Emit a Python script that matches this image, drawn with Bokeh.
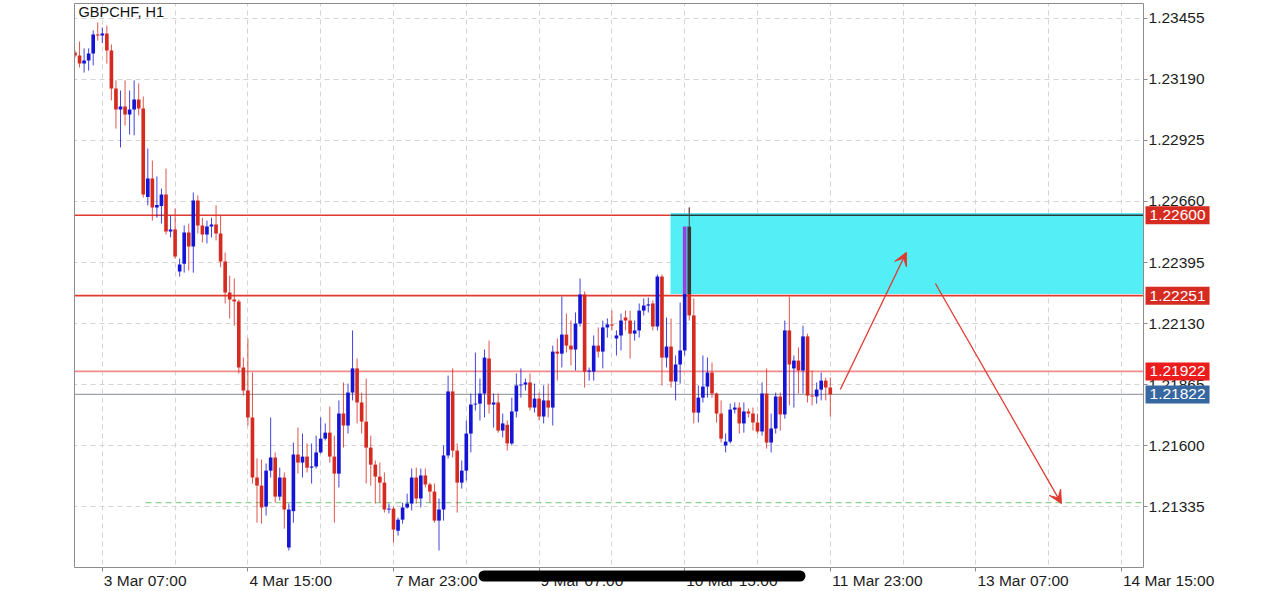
from bokeh.plotting import figure
from bokeh.models import (FixedTicker, PrintfTickFormatter, Range1d, Label, Arrow, VeeHead, BoxAnnotation)
from bokeh.embed import file_html
from bokeh.resources import INLINE

# ---------------- data ----------------
chart_title = "GBPCHF, H1"
bar_index = list(range(-6, 161))          # hourly bars, 0 = 3 Mar 07:00

opens = [
    1.23307, 1.23294, 1.23259, 1.23272, 1.23303, 1.23385,
    1.23381, 1.23390, 1.23316, 1.23151, 1.23060, 1.23073, 1.23038, 1.23060, 1.23103, 1.23064,
    1.22680, 1.22760, 1.22634, 1.22640, 1.22690, 1.22530, 1.22538, 1.22356, 1.22390, 1.22525,
    1.22464, 1.22664, 1.22556, 1.22517, 1.22551, 1.22560, 1.22521, 1.22399, 1.22265, 1.22234,
    1.22226, 1.21939, 1.21839, 1.21722, 1.21461, 1.21426, 1.21335, 1.21491, 1.21548, 1.21378,
    1.21461, 1.21157, 1.21315, 1.21561, 1.21526, 1.21552, 1.21504, 1.21509, 1.21570, 1.21630,
    1.21656, 1.21552, 1.21478, 1.21739, 1.21687, 1.21830, 1.21935, 1.21787, 1.21704, 1.21591,
    1.21517, 1.21465, 1.21439, 1.21322, 1.21326, 1.21230, 1.21278, 1.21331, 1.21348, 1.21461,
    1.21370, 1.21470, 1.21431, 1.21400, 1.21274, 1.21322, 1.21557, 1.21835, 1.21578, 1.21439,
    1.21491, 1.21652, 1.21778, 1.21782, 1.21826, 1.21978, 1.21778, 1.21787, 1.21665, 1.21690,
    1.21609, 1.21748, 1.21861, 1.21865, 1.21874, 1.21765, 1.21804, 1.21726, 1.21796, 1.21765,
    1.22008, 1.21999, 1.22082, 1.22034, 1.22017, 1.22130, 1.22256, 1.21921, 1.21921, 1.22034,
    1.22008, 1.22113, 1.22126, 1.22065, 1.22078, 1.22156, 1.22143, 1.22086, 1.22100, 1.22186,
    1.22208, 1.22217, 1.22117, 1.22334, 1.21982, 1.22030, 1.21878, 1.21952, 1.22013, 1.22551,
    1.22165, 1.21743, 1.21808, 1.21856, 1.21917, 1.21826, 1.21739, 1.21600, 1.21617, 1.21756,
    1.21765, 1.21696, 1.21748, 1.21739, 1.21700, 1.21661, 1.21826, 1.21613, 1.21674, 1.21813,
    1.21735, 1.22100, 1.21935, 1.21969, 1.21926, 1.22074, 1.21817, 1.21813, 1.21843, 1.21882,
    1.21852,
]
highs = [
    1.23316, 1.23355, 1.23325, 1.23325, 1.23403, 1.23438,
    1.23416, 1.23424, 1.23342, 1.23186, 1.23142, 1.23186, 1.23142, 1.23186, 1.23173, 1.23116,
    1.22890, 1.22838, 1.22769, 1.22716, 1.22803, 1.22599, 1.22630, 1.22412, 1.22556, 1.22564,
    1.22699, 1.22686, 1.22589, 1.22577, 1.22589, 1.22643, 1.22599, 1.22438, 1.22338, 1.22325,
    1.22234, 1.21982, 1.22065, 1.21917, 1.21544, 1.21539, 1.21522, 1.21722, 1.21570, 1.21504,
    1.21483, 1.21348, 1.21613, 1.21678, 1.21652, 1.21609, 1.21609, 1.21643, 1.21722, 1.21696,
    1.21769, 1.21643, 1.21796, 1.21874, 1.21869, 1.22100, 1.21978, 1.21830, 1.21891, 1.21643,
    1.21535, 1.21526, 1.21483, 1.21348, 1.21335, 1.21287, 1.21352, 1.21391, 1.21500, 1.21504,
    1.21500, 1.21500, 1.21439, 1.21435, 1.21370, 1.21600, 1.21904, 1.21935, 1.21609, 1.21535,
    1.21709, 1.21826, 1.22004, 1.21891, 1.22017, 1.22056, 1.21826, 1.21826, 1.21739, 1.21709,
    1.21808, 1.21913, 1.21935, 1.21891, 1.21913, 1.21869, 1.21830, 1.21861, 1.21869, 1.22034,
    1.22065, 1.22247, 1.22173, 1.22143, 1.22178, 1.22325, 1.22269, 1.21939, 1.22078, 1.22113,
    1.22143, 1.22152, 1.22186, 1.22100, 1.22173, 1.22186, 1.22186, 1.22143, 1.22217, 1.22239,
    1.22243, 1.22230, 1.22343, 1.22343, 1.22156, 1.22152, 1.21991, 1.22221, 1.22560, 1.22634,
    1.22239, 1.21861, 1.21991, 1.21982, 1.21961, 1.21830, 1.21796, 1.21652, 1.21782, 1.21787,
    1.21787, 1.21787, 1.21761, 1.21765, 1.21739, 1.21874, 1.21935, 1.21739, 1.21830, 1.21830,
    1.22143, 1.22247, 1.21991, 1.22026, 1.22121, 1.22086, 1.21926, 1.21874, 1.21917, 1.21895,
    1.21895,
]
lows = [
    1.23285, 1.23242, 1.23220, 1.23229, 1.23251, 1.23359,
    1.23348, 1.23259, 1.23099, 1.22977, 1.22895, 1.22990, 1.22951, 1.22947, 1.23034, 1.22677,
    1.22643, 1.22577, 1.22589, 1.22564, 1.22517, 1.22504, 1.22412, 1.22334, 1.22351, 1.22360,
    1.22351, 1.22521, 1.22482, 1.22478, 1.22504, 1.22491, 1.22374, 1.22217, 1.22152, 1.22121,
    1.21913, 1.21817, 1.21687, 1.21435, 1.21265, 1.21261, 1.21296, 1.21461, 1.21352, 1.21361,
    1.21239, 1.21144, 1.21265, 1.21478, 1.21461, 1.21483, 1.21435, 1.21500, 1.21565, 1.21622,
    1.21526, 1.21265, 1.21418, 1.21591, 1.21652, 1.21796, 1.21696, 1.21652, 1.21435, 1.21426,
    1.21348, 1.21352, 1.21309, 1.21305, 1.21179, 1.21209, 1.21261, 1.21326, 1.21318, 1.21348,
    1.21331, 1.21418, 1.21352, 1.21265, 1.21144, 1.21274, 1.21544, 1.21548, 1.21309, 1.21413,
    1.21448, 1.21570, 1.21752, 1.21709, 1.21722, 1.21739, 1.21678, 1.21656, 1.21635, 1.21578,
    1.21600, 1.21722, 1.21808, 1.21839, 1.21752, 1.21743, 1.21709, 1.21696, 1.21722, 1.21687,
    1.21882, 1.21939, 1.22004, 1.21948, 1.21926, 1.22117, 1.21852, 1.21882, 1.21882, 1.21982,
    1.21935, 1.22069, 1.22100, 1.21991, 1.22013, 1.22100, 1.21978, 1.22056, 1.22069, 1.22165,
    1.22178, 1.22100, 1.22100, 1.21861, 1.21939, 1.21852, 1.21796, 1.21869, 1.21991, 1.22143,
    1.21696, 1.21700, 1.21787, 1.21808, 1.21808, 1.21700, 1.21613, 1.21570, 1.21609, 1.21739,
    1.21652, 1.21656, 1.21722, 1.21665, 1.21652, 1.21643, 1.21587, 1.21570, 1.21652, 1.21665,
    1.21717, 1.21774, 1.21765, 1.21826, 1.21826, 1.21787, 1.21774, 1.21782, 1.21796, 1.21796,
    1.21726,
]
closes = [
    1.23294, 1.23259, 1.23272, 1.23303, 1.23385, 1.23381,
    1.23390, 1.23316, 1.23151, 1.23060, 1.23073, 1.23038, 1.23060, 1.23103, 1.23064, 1.22690,
    1.22760, 1.22634, 1.22645, 1.22690, 1.22530, 1.22538, 1.22421, 1.22386, 1.22525, 1.22464,
    1.22664, 1.22556, 1.22517, 1.22551, 1.22560, 1.22521, 1.22399, 1.22265, 1.22234, 1.22226,
    1.21939, 1.21839, 1.21722, 1.21461, 1.21426, 1.21331, 1.21491, 1.21548, 1.21378, 1.21461,
    1.21322, 1.21322, 1.21561, 1.21526, 1.21552, 1.21504, 1.21509, 1.21570, 1.21630, 1.21656,
    1.21552, 1.21478, 1.21739, 1.21687, 1.21830, 1.21935, 1.21787, 1.21704, 1.21591, 1.21517,
    1.21465, 1.21439, 1.21322, 1.21326, 1.21235, 1.21278, 1.21331, 1.21348, 1.21461, 1.21370,
    1.21470, 1.21431, 1.21400, 1.21274, 1.21322, 1.21557, 1.21835, 1.21578, 1.21439, 1.21491,
    1.21652, 1.21778, 1.21782, 1.21826, 1.21982, 1.21778, 1.21787, 1.21665, 1.21696, 1.21609,
    1.21748, 1.21861, 1.21865, 1.21874, 1.21765, 1.21804, 1.21726, 1.21796, 1.21765, 1.22008,
    1.21999, 1.22082, 1.22034, 1.22017, 1.22130, 1.22256, 1.21921, 1.21926, 1.22034, 1.22008,
    1.22113, 1.22126, 1.22121, 1.22078, 1.22143, 1.22143, 1.22086, 1.22100, 1.22186, 1.22208,
    1.22213, 1.22117, 1.22334, 1.21982, 1.22030, 1.21878, 1.21952, 1.22013, 1.22551, 1.22165,
    1.21743, 1.21808, 1.21856, 1.21917, 1.21826, 1.21739, 1.21630, 1.21617, 1.21756, 1.21765,
    1.21696, 1.21748, 1.21739, 1.21700, 1.21661, 1.21826, 1.21613, 1.21674, 1.21813, 1.21735,
    1.22100, 1.21952, 1.21969, 1.21926, 1.22074, 1.21817, 1.21813, 1.21843, 1.21882, 1.21852,
    1.21822,
]

price_ticks = [1.21335, 1.21600, 1.21865, 1.22130, 1.22395, 1.22660, 1.22925, 1.23190, 1.23455]
time_tick_index = [0, 32, 64, 96, 128, 160, 192, 224]
time_tick_labels = ["3 Mar 07:00", "4 Mar 15:00", "7 Mar 23:00", "9 Mar 07:00",
                    "10 Mar 15:00", "11 Mar 23:00", "13 Mar 07:00", "14 Mar 15:00"]

level_upper = 1.22600
level_lower = 1.22251
level_mid = 1.21922
bid_price = 1.21822
target_level = 1.21352
zone_left, zone_top, zone_bottom = 124.88, 1.22610, 1.22258
highlight_bars = [128, 129]

arrow_up = (162.2, 1.21843, 176.7, 1.22439)
arrow_down = (183.1, 1.22304, 210.8, 1.21348)

price_tags = [("1.22600", level_upper, "#d62b20"),
              ("1.22251", level_lower, "#d62b20"),
              ("1.21922", level_mid, "#ec1c1c"),
              ("1.21822", bid_price, "#3767a0")]

# ---------------- figure ----------------
FONT = "Liberation Sans"
FS = 15.5
PX_PER_BAR = 4.55
# visible plot area (data units)
X0, X1 = -6.11, 228.84
Y_BOT, Y_TOP = 1.21070, 1.23520
# full canvas extent in data units (axes are drawn at fixed locations inside it)
CX0, CX1 = -22.374, 257.187
CY0, CY1 = 1.20966, 1.23533

p = figure(width=1272, height=591, output_backend="svg", toolbar_location=None,
           x_range=Range1d(CX0, CX1), y_range=Range1d(CY0, CY1),
           y_axis_location="right", min_border=0,
           min_border_left=0, min_border_right=0, min_border_top=0, min_border_bottom=0,
           background_fill_color="white", border_fill_color="white",
           outline_line_color=None)

for ax in (p.xaxis[0], p.yaxis[0]):
    ax.axis_line_color = "#8c8c8c"
    ax.axis_line_width = 1
    ax.major_tick_line_color = "#8c8c8c"
    ax.minor_tick_line_color = "#8c8c8c"
    ax.major_tick_out = 4
    ax.major_tick_in = 0
    ax.minor_tick_out = 0
    ax.minor_tick_in = 0
    ax.major_label_text_font = FONT
    ax.major_label_text_font_size = f"{FS}px"
    ax.major_label_text_color = "#1c1c1c"

p.yaxis.fixed_location = X1
p.yaxis.bounds = (Y_BOT, Y_TOP)
p.yaxis.major_label_standoff = 1
p.yaxis.ticker = FixedTicker(ticks=price_ticks)
p.yaxis.formatter = PrintfTickFormatter(format="%.5f")

# x labels are left-aligned at their tick: centre each label half its width to the right
CHAR_W = {" ": 0.278, "M": 0.833, "a": 0.556, "r": 0.333, ":": 0.278}
def label_center(tick, text):
    w = sum(CHAR_W.get(ch, 0.556) for ch in text) * FS
    return tick + (w / 2 + 1.5) / PX_PER_BAR

centers = [label_center(t, l) for t, l in zip(time_tick_index, time_tick_labels)]
inside = [(c, l) for c, l in zip(centers, time_tick_labels) if c < X1]
p.xaxis.fixed_location = Y_BOT
p.xaxis.bounds = (X0, X1)
p.xaxis.ticker = FixedTicker(ticks=[c for c, _ in inside], minor_ticks=time_tick_index)
p.xaxis.major_label_overrides = {c: l for c, l in inside}
p.xaxis.major_tick_out = 0
p.xaxis.minor_tick_out = 4
p.xaxis.major_label_standoff = 0

p.xgrid.ticker = FixedTicker(ticks=list(range(0, 240, 16)))
for g in (p.xgrid[0], p.ygrid[0]):
    g.grid_line_color = "#d4d4d4"
    g.grid_line_dash = "5 4"
    g.grid_line_width = 1

# level lines (behind candles)
p.segment(x0=[X0], y0=[level_mid], x1=[X1], y1=[level_mid], line_color="#f28c8c", line_width=1.6)
p.segment(x0=[X0], y0=[bid_price], x1=[X1], y1=[bid_price], line_color="#9ea3aa", line_width=1.3)
p.segment(x0=[9.5], y0=[target_level], x1=[X1], y1=[target_level], line_color="#8fd08f",
          line_width=1.3, line_dash="6 4")
p.segment(x0=[X0], y0=[level_upper], x1=[zone_left], y1=[level_upper], line_color="#e03a30", line_width=1.6)
p.segment(x0=[X0], y0=[level_lower], x1=[X1], y1=[level_lower], line_color="#e03a30", line_width=1.6)

# candles
BULL, BEAR = "#1414d4", "#d42a20"
cols = [BULL if c >= o else BEAR for o, c in zip(opens, closes)]
tops = [max(o, c) for o, c in zip(opens, closes)]
bots = [min(o, c) for o, c in zip(opens, closes)]
bots = [b if t - b > 0.00004 else t - 0.00004 for t, b in zip(tops, bots)]
p.segment(x0=bar_index, y0=lows, x1=bar_index, y1=highs, line_color=cols, line_alpha=0.8, line_width=1)
p.vbar(x=bar_index, width=0.8, top=tops, bottom=bots, fill_color=cols, line_color=None)

# supply zone
p.quad(left=[zone_left], right=[X1], top=[zone_top], bottom=[zone_bottom],
       fill_color="#54eef6", line_color=None)
p.segment(x0=[zone_left], y0=[level_upper], x1=[X1], y1=[level_upper], line_color="#2a3a3c", line_width=1.6)

# highlighted candles inside the zone
k0 = bar_index.index(highlight_bars[0])
k1 = bar_index.index(highlight_bars[1])
p.vbar(x=[highlight_bars[0]], width=0.8, top=[closes[k0]], bottom=[zone_bottom], fill_color="#9a3fe2", line_color=None)
p.vbar(x=[highlight_bars[1]], width=0.8, top=[opens[k1]], bottom=[zone_bottom], fill_color="#383838", line_color=None)
p.segment(x0=[highlight_bars[1]], y0=[opens[k1]], x1=[highlight_bars[1]], y1=[highs[k1]], line_color="#444444", line_width=1)

# white margins around the plot area (hide grid / candle overflow), then the frame border
p.quad(left=[CX0 - 5, X1, CX0 - 5, CX0 - 5], right=[X0, CX1 + 5, CX1 + 5, CX1 + 5],
       bottom=[CY0 - 0.01, CY0 - 0.01, CY0 - 0.01, Y_TOP], top=[CY1 + 0.01, CY1 + 0.01, Y_BOT, CY1 + 0.01],
       fill_color="white", line_color=None)
p.segment(x0=[X0, X0], y0=[Y_BOT, Y_TOP], x1=[X0, X1], y1=[Y_TOP, Y_TOP], line_color="#8c8c8c", line_width=1)

# arrows
for (xs, ys, xe, ye) in (arrow_up, arrow_down):
    p.add_layout(Arrow(end=VeeHead(size=13, line_color="#e03a30", fill_color="#e03a30", line_width=1),
                       x_start=xs, y_start=ys, x_end=xe, y_end=ye,
                       line_color="#e03a30", line_width=1.3))

# title
p.add_layout(Label(x=X0 + 0.9, y=Y_TOP, y_offset=-1, text=chart_title, text_font=FONT, text_font_size="14.5px",
                   text_color="#111111", text_baseline="top", text_align="left"))

# price tags on the axis
for txt, yv, colr in price_tags:
    p.add_layout(Label(x=X1, x_offset=2, y=yv, text=txt, text_font=FONT, text_font_size=f"{FS}px",
                       text_color="white", text_align="left", text_baseline="middle",
                       background_fill_color=colr, padding=4))

# time labels whose centre falls past the plot area
for t, l in zip(time_tick_index, time_tick_labels):
    if label_center(t, l) >= X1:
        p.add_layout(Label(x=t, x_offset=1.5, y=Y_BOT, y_offset=-4, text=l, text_font=FONT,
                           text_font_size=f"{FS}px", text_color="#1c1c1c",
                           text_align="left", text_baseline="top"))

# scroll indicator bar overlay at the bottom
p.add_layout(BoxAnnotation(left=478, right=805, top=570, bottom=581,
                           left_units="canvas", right_units="canvas",
                           top_units="canvas", bottom_units="canvas",
                           fill_color="black", fill_alpha=1.0, line_color=None,
                           border_radius=6, level="overlay"))

open("out.html", "w").write(file_html(p, INLINE))
